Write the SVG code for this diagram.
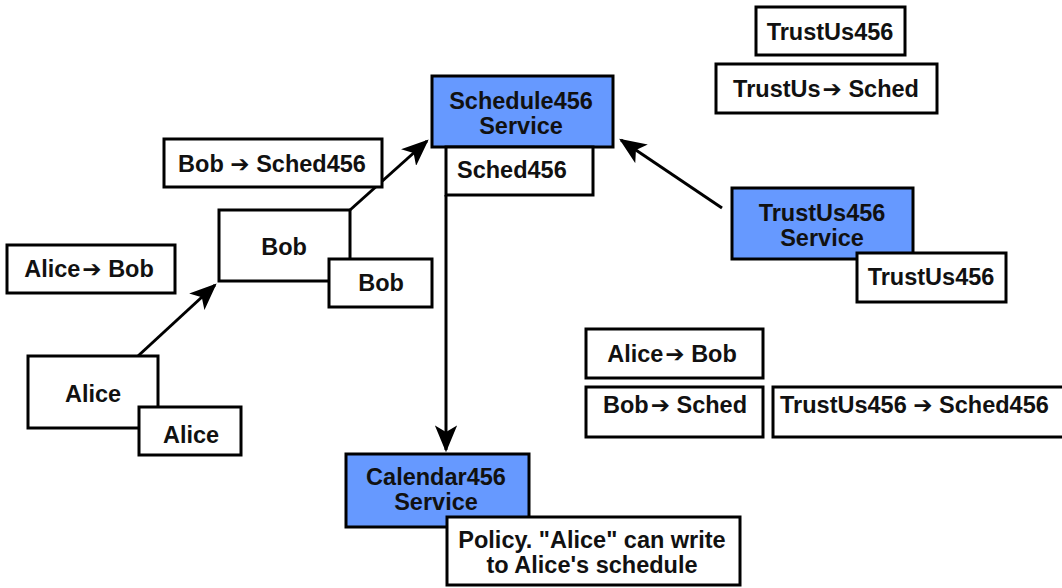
<svg xmlns="http://www.w3.org/2000/svg" width="1062" height="588" viewBox="0 0 1062 588">
<style>
.b{fill:#fff;stroke:#000;stroke-width:3}
.s{fill:#6699ff;stroke:#000;stroke-width:3}
text{font-family:"Liberation Sans",Arial,sans-serif;font-weight:bold;font-size:23.5px;fill:#111}
.a{font-family:"DejaVu Sans",sans-serif;font-size:23px}
.c{text-anchor:middle}
.e{stroke:#000;stroke-width:3;fill:none;marker-end:url(#ah)}
</style>
<defs>
<marker id="ah" viewBox="0 0 12 10" refX="11" refY="5" markerWidth="9" markerHeight="7.5" orient="auto" markerUnits="strokeWidth">
<path d="M0,0 L12,5 L0,10 L3,5 z" fill="#000"/>
</marker>
</defs>
<rect width="1062" height="588" fill="#fff"/>
<g id="connectors">
<line class="e" x1="138" y1="356" x2="215" y2="285"/>
<line class="e" x1="350" y1="210" x2="427" y2="141"/>
<line class="e" x1="446" y1="195" x2="446" y2="450"/>
<line class="e" x1="722" y1="208" x2="621" y2="140"/>
</g>
<g id="schedule-service"><rect class="s" x="432" y="76" width="181" height="71"/><text class="c" x="521" y="109">Schedule456</text><text class="c" x="521" y="134">Service</text></g>
<g id="sched456-cred"><rect class="b" x="446" y="147" width="147" height="48"/><text x="457" y="178">Sched456</text></g>
<g id="bob-sched456"><rect class="b" x="164" y="139" width="218" height="48"/><text class="c" x="272" y="172">Bob <tspan class="a">➔</tspan> Sched456</text></g>
<g id="trustus-top"><rect class="b" x="756" y="7" width="149" height="48"/><text class="c" x="830" y="40">TrustUs456</text></g>
<g id="trustus-sched"><rect class="b" x="716" y="64" width="221" height="49"/><text class="c" x="826" y="97">TrustUs<tspan class="a" dx="2">➔</tspan> Sched</text></g>
<g id="trustus-service"><rect class="s" x="732" y="188" width="181" height="71"/><text class="c" x="822" y="221">TrustUs456</text><text class="c" x="822" y="246">Service</text></g>
<g id="trustus-cred"><rect class="b" x="857" y="253" width="149" height="49"/><text class="c" x="931" y="285">TrustUs456</text></g>
<g id="alice-bob-left"><rect class="b" x="7" y="245" width="168" height="48"/><text class="c" x="89" y="277">Alice<tspan class="a" dx="2">➔</tspan> Bob</text></g>
<g id="bob"><rect class="b" x="219" y="210" width="131" height="71"/><text class="c" x="284" y="255">Bob</text></g>
<g id="bob-cred"><rect class="b" x="329" y="259" width="103" height="48"/><text class="c" x="381" y="291">Bob</text></g>
<g id="alice"><rect class="b" x="28" y="356" width="130" height="72"/><text class="c" x="93" y="402">Alice</text></g>
<g id="alice-cred"><rect class="b" x="139" y="407" width="102" height="48"/><text class="c" x="191" y="443">Alice</text></g>
<g id="calendar-service"><rect class="s" x="346" y="454" width="183" height="73"/><text class="c" x="436" y="485">Calendar456</text><text class="c" x="436" y="510">Service</text></g>
<g id="policy"><rect class="b" x="447" y="517" width="293" height="68"/><text class="c" x="592" y="548">Policy. "Alice" can write</text><text class="c" x="592" y="573">to Alice's schedule</text></g>
<g id="alice-bob-right"><rect class="b" x="586" y="329" width="177" height="49"/><text class="c" x="672" y="362">Alice<tspan class="a" dx="2">➔</tspan> Bob</text></g>
<g id="bob-sched"><rect class="b" x="586" y="387" width="177" height="50"/><text class="c" x="675" y="413">Bob<tspan class="a" dx="2">➔</tspan> Sched</text></g>
<g id="trustus456-sched456"><rect class="b" x="773" y="387" width="300" height="50"/><text x="780" y="413">TrustUs456 <tspan class="a">➔</tspan> Sched456</text></g>
</svg>
